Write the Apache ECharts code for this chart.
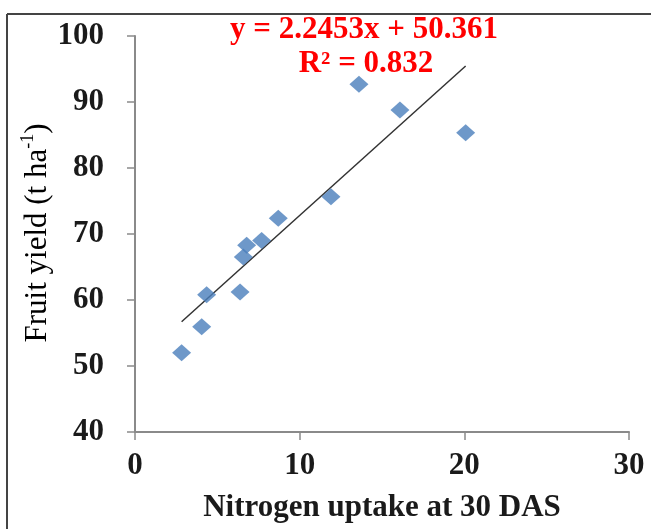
<!DOCTYPE html>
<html>
<head>
<meta charset="utf-8">
<script src="https://cdn.jsdelivr.net/npm/echarts@6/dist/echarts.min.js"></script>
<style>
html,body{margin:0;padding:0;background:#fff;}
#chart{width:651px;height:529px;}
</style>
</head>
<body>
<div id="chart"></div>
<script>
// Data
var nUptake = [2.83, 4.05, 4.35, 6.38, 6.58, 6.78, 7.69, 8.70, 11.9, 13.6, 16.09, 20.08];
var fruitYield = [52.0, 55.95, 60.8, 61.2, 66.5, 68.3, 69.0, 72.4, 75.65, 92.7, 88.8, 85.35];
var trendX = [2.83, 20.08];
var trendY = [56.7, 95.45];
var xTicks = [0, 10, 20, 30];
var yTicks = [40, 50, 60, 70, 80, 90, 100];
var eqLine1 = 'y = 2.2453x + 50.361';
var eqLine2 = 'R² = 0.832';
var xTitle = 'Nitrogen uptake at 30 DAS';

var points = nUptake.map(function (x, i) { return [x, fruitYield[i]]; });
var trend = trendX.map(function (x, i) { return [x, trendY[i]]; });

var FONT = '"Liberation Serif", "Times New Roman", serif';
var axisGray = '#8a8a8a';

var chart = echarts.init(document.getElementById('chart'));
chart.setOption({
  backgroundColor: '#ffffff',
  animation: false,
  grid: { left: 135, right: 22, top: 36, bottom: 97 },
  xAxis: {
    type: 'value',
    min: xTicks[0], max: xTicks[xTicks.length - 1], interval: 10,
    splitLine: { show: false },
    axisLine: { show: true, lineStyle: { color: axisGray, width: 2 } },
    axisTick: { show: true, inside: false, length: 8, lineStyle: { color: axisGray, width: 1.5 } },
    axisLabel: { margin: 18, color: '#1a1a1a', fontFamily: FONT, fontWeight: 'bold', fontSize: 31 },
    name: xTitle,
    nameLocation: 'middle',
    nameGap: 60,
    nameTextStyle: { color: '#1a1a1a', fontFamily: FONT, fontWeight: 'bold', fontSize: 31 }
  },
  yAxis: {
    type: 'value',
    min: yTicks[0], max: yTicks[yTicks.length - 1], interval: 10,
    splitLine: { show: false },
    axisLine: { show: true, lineStyle: { color: axisGray, width: 2 } },
    axisTick: { show: true, inside: false, length: 8, lineStyle: { color: axisGray, width: 1.5 } },
    axisLabel: { margin: 31, color: '#1a1a1a', fontFamily: FONT, fontWeight: 'bold', fontSize: 31 }
  },
  series: [
    {
      type: 'line',
      data: trend,
      symbol: 'none',
      lineStyle: { color: '#333333', width: 1.5 },
      z: 2
    },
    {
      type: 'scatter',
      data: points,
      symbol: 'diamond',
      symbolSize: [19, 17],
      itemStyle: { color: '#4a7ebb' },
      z: 3
    }
  ],
  graphic: [
    { type: 'line', shape: { x1: 7, y1: 14, x2: 651, y2: 14 }, style: { stroke: '#444', lineWidth: 2 } },
    { type: 'line', shape: { x1: 7, y1: 14, x2: 7, y2: 529 }, style: { stroke: '#444', lineWidth: 2 } },
    {
      type: 'text', x: 364, y: 30,
      style: { text: eqLine1, fill: '#ff0000', font: 'bold 31px ' + FONT, textAlign: 'center', textVerticalAlign: 'middle' }
    },
    {
      type: 'text', x: 366, y: 64,
      style: { text: eqLine2, fill: '#ff0000', font: 'bold 31px ' + FONT, textAlign: 'center', textVerticalAlign: 'middle' }
    },
    {
      type: 'text', x: 36, y: 233, rotation: Math.PI / 2,
      style: {
        text: '{a|Fruit yield (t ha}{s|-1}{a|)}',
        textAlign: 'center', textVerticalAlign: 'middle',
        rich: {
          a: { fontFamily: FONT, fontSize: 31, color: '#1a1a1a', verticalAlign: 'bottom', lineHeight: 34 },
          s: { fontFamily: FONT, fontSize: 18, color: '#1a1a1a', verticalAlign: 'top', lineHeight: 34, padding: [0, 0, 14, 0] }
        }
      }
    }
  ]
});
</script>
</body>
</html>
